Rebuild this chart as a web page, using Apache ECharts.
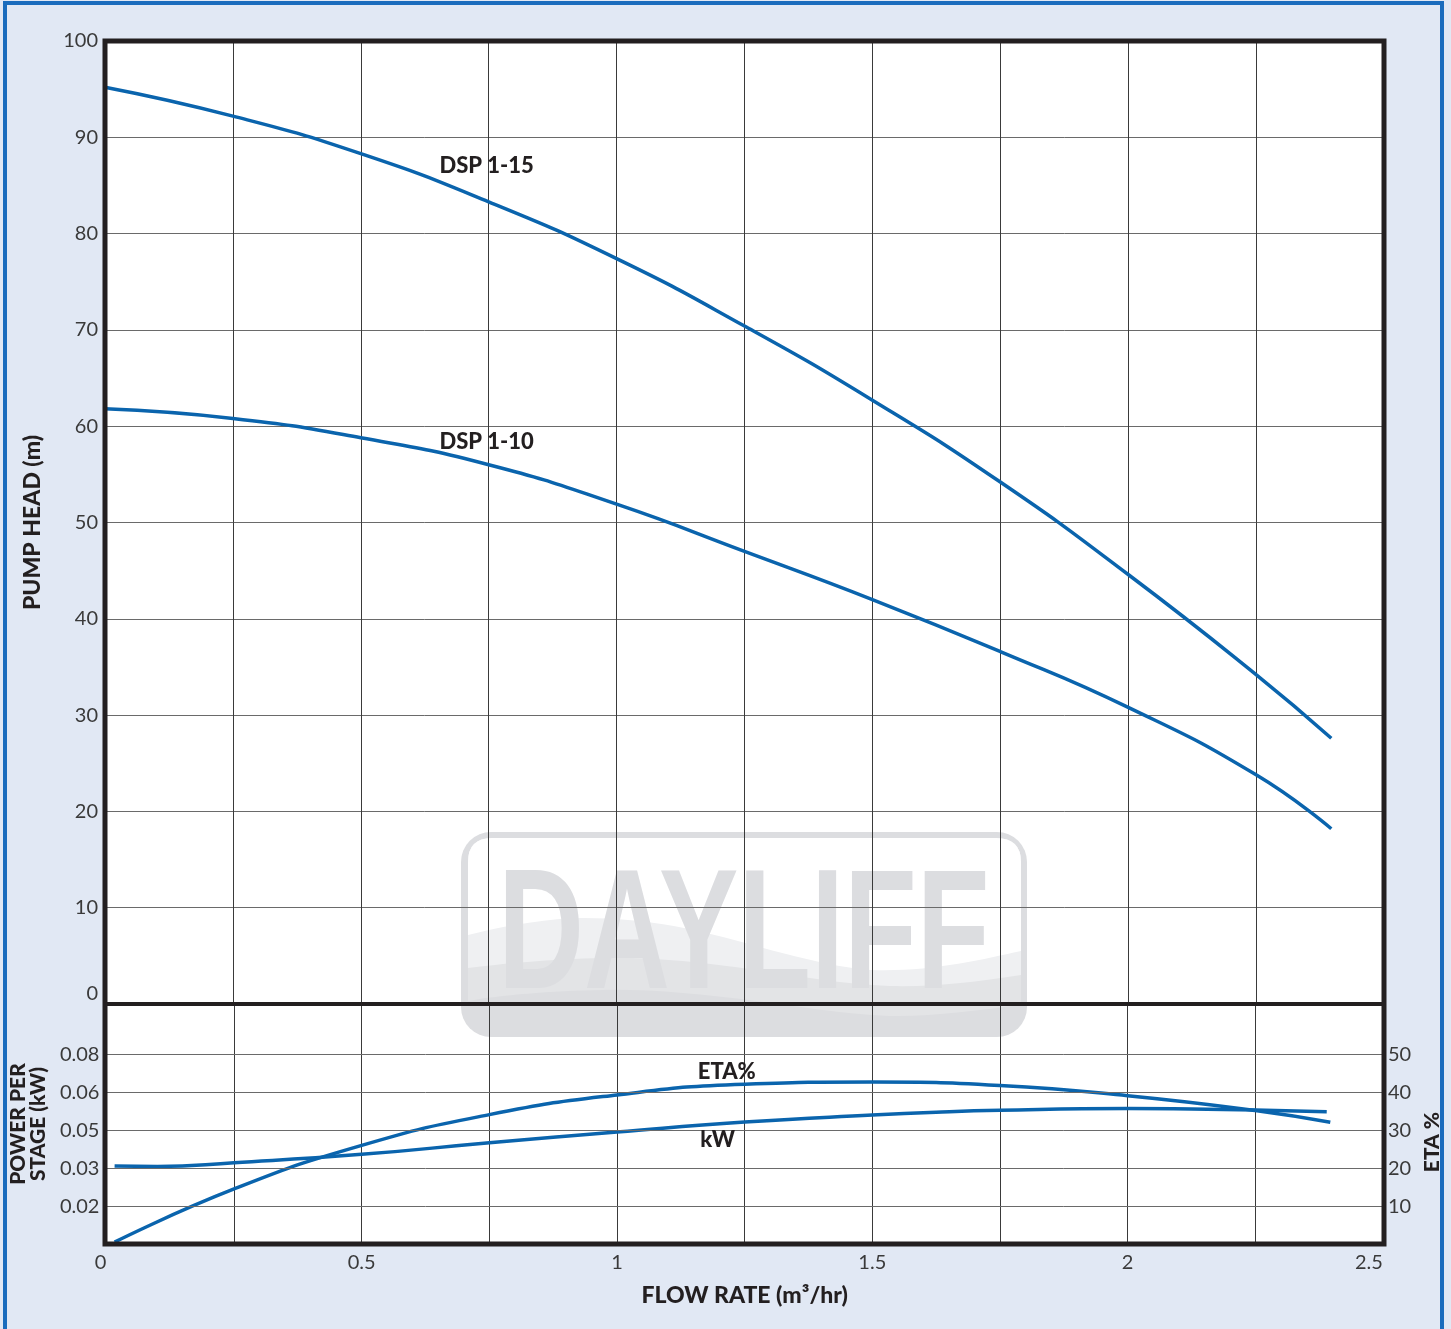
<!DOCTYPE html>
<html><head><meta charset="utf-8">
<script src="https://cdn.jsdelivr.net/npm/echarts@6/dist/echarts.min.js"></script>
<style>html,body{margin:0;padding:0;background:#e1e8f4}#c{width:1451px;height:1329px}</style>
</head><body><div id="c"></div>
<script>
// ---- data ----
const flowHead = [0, 0.25, 0.5, 0.75, 1.0, 1.25, 1.5, 1.75, 2.0, 2.25, 2.397];
const headDSP115 = [95.2, 92.2, 88.3, 83.3, 77.4, 70.4, 62.7, 54.2, 44.6, 34.2, 27.6];
const headDSP110 = [61.8, 60.8, 58.8, 56.0, 51.9, 47.0, 42.0, 36.6, 30.8, 23.8, 18.2];
const flowEta = [0.016, 0.25, 0.5, 0.75, 1.0, 1.25, 1.5, 1.75, 2.0, 2.25, 2.397];
const etaPct = [0.5, 14.5, 26.0, 34.1, 39.3, 42.1, 42.7, 41.8, 39.1, 35.2, 32.1];
const flowKw = [0.016, 0.1, 0.25, 0.5, 0.75, 1.0, 1.25, 1.5, 1.625, 1.75, 2.0, 2.125, 2.25, 2.39];
const powerKw = [0.0329, 0.0327, 0.0343, 0.0378, 0.0427, 0.0472, 0.0514, 0.0544, 0.0556, 0.0564, 0.0571, 0.0569, 0.0565, 0.0558];
const flowTickLabels = ['0', '0.5', '1', '1.5', '2', '2.5'];
const powerTickLabels = ['0.02', '0.03', '0.05', '0.06', '0.08'];
const etaTickLabels = ['10', '20', '30', '40', '50'];
const seriesNames = ['DSP 1-15', 'DSP 1-10', 'ETA%', 'kW'];

// ---- layout ----
const L = 105, R = 1384, T = 41, MID = 1004, B = 1244;
const W = 1451;
const powerStep = 0.016, etaStep = 10;
const unitsTall = (B - MID) / ((B - 1054.3) / 5);
const powerMax = powerStep * unitsTall;
const etaMax = etaStep * unitsTall;
const BLUE = '#0a64ad';
const INK = '#231f20';
const TICK = '#3a3a3a';
const FONT = 'Lato, "Open Sans", sans-serif';
const BOLD = 900;

const pairs = (xs, ys) => xs.map((x, i) => [x, ys[i]]);
const near = (v, step) => { const k = Math.round(v / step); return Math.abs(v - k * step) < step * 1e-4 ? k : -1; };

function lineSeries(name, xAxisIndex, yAxisIndex, data, lab, extra) {
  return Object.assign({
    name, type: 'line', xAxisIndex, yAxisIndex, data, smooth: 0.5,
    showSymbol: false, symbol: 'none', lineStyle: { color: BLUE, width: 3.5 }, z: 3,
    markPoint: {
      symbol: 'circle', symbolSize: 1, itemStyle: { color: 'rgba(0,0,0,0)' }, silent: true,
      label: { show: true, position: 'inside', color: INK, fontFamily: FONT, fontWeight: BOLD, fontSize: 22, formatter: name },
      data: [{ coord: lab }]
    }
  }, extra || {});
}

// ---- watermark (decorative logo) ----
const GR = '#dcdde0';
function innerPath(wave) {
  return 'M 468 ' + wave.startLeft + ' L 468 862 Q 468 838 492 838 L 996 838 Q 1021 838 1021 862 L 1021 ' + wave.startRight + ' ' + wave.segs + ' Z';
}
const darkWave = { startLeft: 1001, startRight: 1005, segs: 'C 980 1010 930 1017 890 1016 C 840 1014 800 1006 756 1001 C 700 994 650 989 603 990 C 550 991 500 995 468 1001' };
const lightLow = { startLeft: 968, startRight: 975, segs: 'C 970 983 930 987 890 986 C 840 984 800 976 756 970 C 700 962 650 957 603 958 C 550 959 500 964 468 968' };
const lightUp = { startLeft: 935, startRight: 951, segs: 'C 980 960 930 972 871 970 C 840 968 800 958 756 946 C 700 930 650 918 584 918 C 560 918 520 922 468 935' };
echarts.graphic.registerShape('wmDark', echarts.graphic.extendPath(innerPath(darkWave), {}));
echarts.graphic.registerShape('wmLight', echarts.graphic.extendPath(innerPath(lightLow), {}));
echarts.graphic.registerShape('wmWhite', echarts.graphic.extendPath(innerPath(lightUp), {}));

const option = {
  backgroundColor: '#e1e8f4',
  animation: false,
  graphic: [
    { type: 'rect', z: -20, silent: true, shape: { x: 5, y: 3, width: 1437, height: 1360 }, style: { fill: '#e1e8f4', stroke: '#1a6cbd', lineWidth: 4 } },
    { type: 'rect', z: -15, silent: true, shape: { x: L, y: T, width: R - L, height: B - T }, style: { fill: '#ffffff' } },
    { type: 'rect', z: -10, silent: true, shape: { x: 461, y: 832, width: 566, height: 205, r: 30 }, style: { fill: GR } },
    { type: 'wmDark', z: -9, silent: true, style: { fill: '#e3e4e6' } },
    { type: 'wmLight', z: -8, silent: true, style: { fill: '#eff0f2' } },
    { type: 'wmWhite', z: -7, silent: true, style: { fill: '#ffffff' } },
    { type: 'text', z: -6, silent: true, x: 498, y: 941, scaleX: 0.70, style: { text: 'DAYLIFF', font: 'bold 170px "Liberation Sans", Arial, sans-serif', fill: GR, verticalAlign: 'middle', align: 'left' } },
    { type: 'rect', z: 10, silent: true, shape: { x: L, y: T, width: R - L, height: B - T }, style: { fill: null, stroke: INK, lineWidth: 5 } },
    { type: 'line', z: 10, silent: true, shape: { x1: L, y1: MID, x2: R, y2: MID }, style: { stroke: INK, lineWidth: 4 } }
  ],
  grid: [
    { left: L, right: W - R, top: T, height: MID - T },
    { left: L, right: W - R, top: MID, height: B - MID }
  ],
  xAxis: [
    { type: 'value', gridIndex: 0, min: 0, max: 2.5, interval: 0.25,
      axisLine: { show: false }, axisTick: { show: false }, axisLabel: { show: false },
      splitLine: { show: true, lineStyle: { color: '#3a3a3a', width: 1 } } },
    { type: 'value', gridIndex: 1, min: 0, max: 2.5, interval: 0.25,
      axisLine: { show: false }, axisTick: { show: false },
      axisLabel: { show: true, margin: 9, color: TICK, fontFamily: FONT, fontSize: 20, alignMinLabel: 'right', alignMaxLabel: 'right',
        formatter: v => { const k = near(v, 0.5); return k >= 0 ? flowTickLabels[k] : ''; } },
      splitLine: { show: true, lineStyle: { color: '#3a3a3a', width: 1 } },
      name: 'FLOW RATE (m³/hr)', nameLocation: 'middle', nameGap: 40,
      nameTextStyle: { color: INK, fontFamily: FONT, fontWeight: BOLD, fontSize: 23 } }
  ],
  yAxis: [
    { type: 'value', gridIndex: 0, min: 0, max: 100, interval: 10,
      axisLine: { show: false }, axisTick: { show: false },
      axisLabel: { margin: 7, color: TICK, fontFamily: FONT, fontSize: 20, verticalAlignMinLabel: 'bottom' },
      splitLine: { show: true, lineStyle: { color: '#6a6a6a', width: 1 } },
      name: 'PUMP HEAD (m)', nameLocation: 'middle', nameGap: 61, nameRotate: 90,
      nameTextStyle: { color: INK, fontFamily: FONT, fontWeight: BOLD, fontSize: 23 } },
    { type: 'value', gridIndex: 1, position: 'left', min: 0, max: powerMax, interval: powerStep,
      axisLine: { show: false }, axisTick: { show: false }, splitLine: { show: false },
      axisLabel: { margin: 7, color: TICK, fontFamily: FONT, fontSize: 20, showMaxLabel: false,
        formatter: v => { const k = near(v, powerStep); return (k >= 1 && k <= powerTickLabels.length) ? powerTickLabels[k - 1] : ''; } },
      name: 'POWER PER\nSTAGE (kW)', nameLocation: 'middle', nameGap: 52, nameRotate: 90,
      nameTextStyle: { color: INK, fontFamily: FONT, fontWeight: BOLD, fontSize: 21, lineHeight: 20 } },
    { type: 'value', gridIndex: 1, position: 'right', min: 0, max: etaMax, interval: etaStep,
      axisLine: { show: false }, axisTick: { show: false }, splitLine: { show: false },
      axisLabel: { margin: 5, color: TICK, fontFamily: FONT, fontSize: 20, showMaxLabel: false,
        formatter: v => { const k = near(v, etaStep); return (k >= 1 && k <= etaTickLabels.length) ? etaTickLabels[k - 1] : ''; } },
      name: 'ETA %', nameLocation: 'middle', nameGap: 34, nameRotate: 90,
      nameTextStyle: { color: INK, fontFamily: FONT, fontWeight: BOLD, fontSize: 21, padding: [0, 36, 0, 0] } }
  ],
  series: [
    lineSeries(seriesNames[0], 0, 0, pairs(flowHead, headDSP115), [0.746, 87.0]),
    lineSeries(seriesNames[1], 0, 0, pairs(flowHead, headDSP110), [0.746, 58.4]),
    lineSeries(seriesNames[2], 1, 2, pairs(flowEta, etaPct), [1.215, 45.4], {
      markLine: { silent: true, symbol: ['none', 'none'], label: { show: false },
        lineStyle: { color: '#6a6a6a', width: 1, type: 'solid' },
        data: etaTickLabels.map(t => ({ yAxis: Number(t) })) }
    }),
    lineSeries(seriesNames[3], 1, 1, pairs(flowKw, powerKw), [1.197, 0.0437])
  ]
};
const chart = echarts.init(document.getElementById('c'), null, { renderer: 'canvas' });
chart.setOption(option);
</script></body></html>
